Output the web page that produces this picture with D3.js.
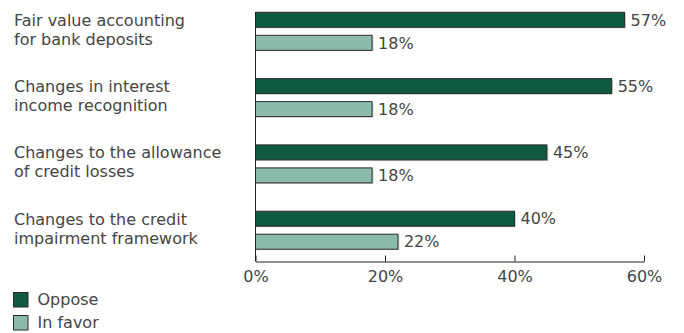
<!DOCTYPE html>
<html>
<head>
<meta charset="utf-8">
<script src="https://cdn.jsdelivr.net/npm/d3@7"></script>
<style>
  body { margin: 0; background: #fff; }
  text { font-family: "DejaVu Sans", sans-serif; fill: #454545; }
</style>
</head>
<body>
<div id="vis"></div>
<script>
// frame size
const FRAME_WIDTH = 684;
const FRAME_HEIGHT = 333;

// data
const categories = [
  ["Fair value accounting", "for bank deposits"],
  ["Changes in interest", "income recognition"],
  ["Changes to the allowance", "of credit losses"],
  ["Changes to the credit", "impairment framework"]
];
const seriesNames = ["Oppose", "In favor"];
const oppose = [57, 55, 45, 40];
const inFavor = [18, 18, 18, 22];
const xTicks = [0, 20, 40, 60];
const colors = ["#105a41", "#8bbcab"];

const rows = categories.map((c, i) => ({key: c.join(" "), lines: c, values: [oppose[i], inFavor[i]]}));

const svg = d3.select("#vis")
  .append("svg")
    .attr("width", FRAME_WIDTH)
    .attr("height", FRAME_HEIGHT);

// scales
const X_SCALE = d3.scaleLinear().domain([0, 60]).range([255.5, 644]);
const Y_GROUP = d3.scaleBand()
  .domain(rows.map(d => d.key))
  .range([12.3, 249.2])
  .paddingInner(0.427)
  .paddingOuter(0);
const Y_INNER = d3.scaleBand()
  .domain(seriesNames)
  .range([0, Y_GROUP.bandwidth()])
  .paddingInner(0.348);

// bars
const groups = svg.selectAll(".grp")
  .data(rows)
  .enter()
  .append("g")
    .attr("class", "grp")
    .attr("transform", d => "translate(0," + Y_GROUP(d.key) + ")");

const bars = groups.selectAll(".bar")
  .data(d => d.values.map((v, i) => ({name: seriesNames[i], v: v, i: i})))
  .enter();

// faint shadow
bars.append("rect")
  .attr("x", X_SCALE(0))
  .attr("y", d => Y_INNER(d.name) + 1)
  .attr("width", d => X_SCALE(d.v) - X_SCALE(0) + 1.5)
  .attr("height", Y_INNER.bandwidth())
  .attr("fill", "#d4d4d4");

bars.append("rect")
  .attr("x", X_SCALE(0))
  .attr("y", d => Y_INNER(d.name))
  .attr("width", d => X_SCALE(d.v) - X_SCALE(0))
  .attr("height", Y_INNER.bandwidth())
  .attr("fill", d => colors[d.i])
  .attr("stroke", "#2a2a2a")
  .attr("stroke-width", 1);

bars.append("text")
  .attr("x", d => X_SCALE(d.v) + 6)
  .attr("y", d => Y_INNER(d.name) + Y_INNER.bandwidth() / 2)
  .attr("dy", "0.36em")
  .attr("font-size", "16px")
  .text(d => d.v + "%");

// category labels
groups.append("text")
  .attr("x", 14)
  .attr("font-size", "16px")
  .selectAll("tspan")
  .data(d => d.lines)
  .enter()
  .append("tspan")
    .attr("x", 14)
    .attr("y", (d, i) => Y_GROUP.bandwidth() / 2 - 5.6 + i * 19)
    .text(d => d);

// x axis
const xAxis = svg.append("g")
  .attr("transform", "translate(0,261.5)")
  .call(d3.axisBottom(X_SCALE).tickValues(xTicks).tickFormat(d => d + "%").tickSizeInner(-6).tickSizeOuter(0).tickPadding(9));
xAxis.select(".domain").attr("stroke", "#222");
xAxis.selectAll(".tick line").attr("stroke", "#222");
xAxis.selectAll(".tick text")
  .attr("font-size", "16px")
  .attr("font-family", "DejaVu Sans, sans-serif")
  .attr("fill", "#454545");

// y axis line
svg.append("line")
  .attr("x1", X_SCALE(0)).attr("x2", X_SCALE(0))
  .attr("y1", Y_GROUP.range()[0]).attr("y2", 261.5)
  .attr("stroke", "#222");

// legend
const legend = svg.selectAll(".leg")
  .data(seriesNames)
  .enter()
  .append("g")
    .attr("transform", (d, i) => "translate(13.5," + (292.5 + i * 23) + ")");
legend.append("rect")
  .attr("width", 14.5)
  .attr("height", 14.5)
  .attr("fill", (d, i) => colors[i])
  .attr("stroke", "#2a2a2a");
legend.append("text")
  .attr("x", 24)
  .attr("y", 12.5)
  .attr("font-size", "16px")
  .text(d => d);
</script>
</body>
</html>
